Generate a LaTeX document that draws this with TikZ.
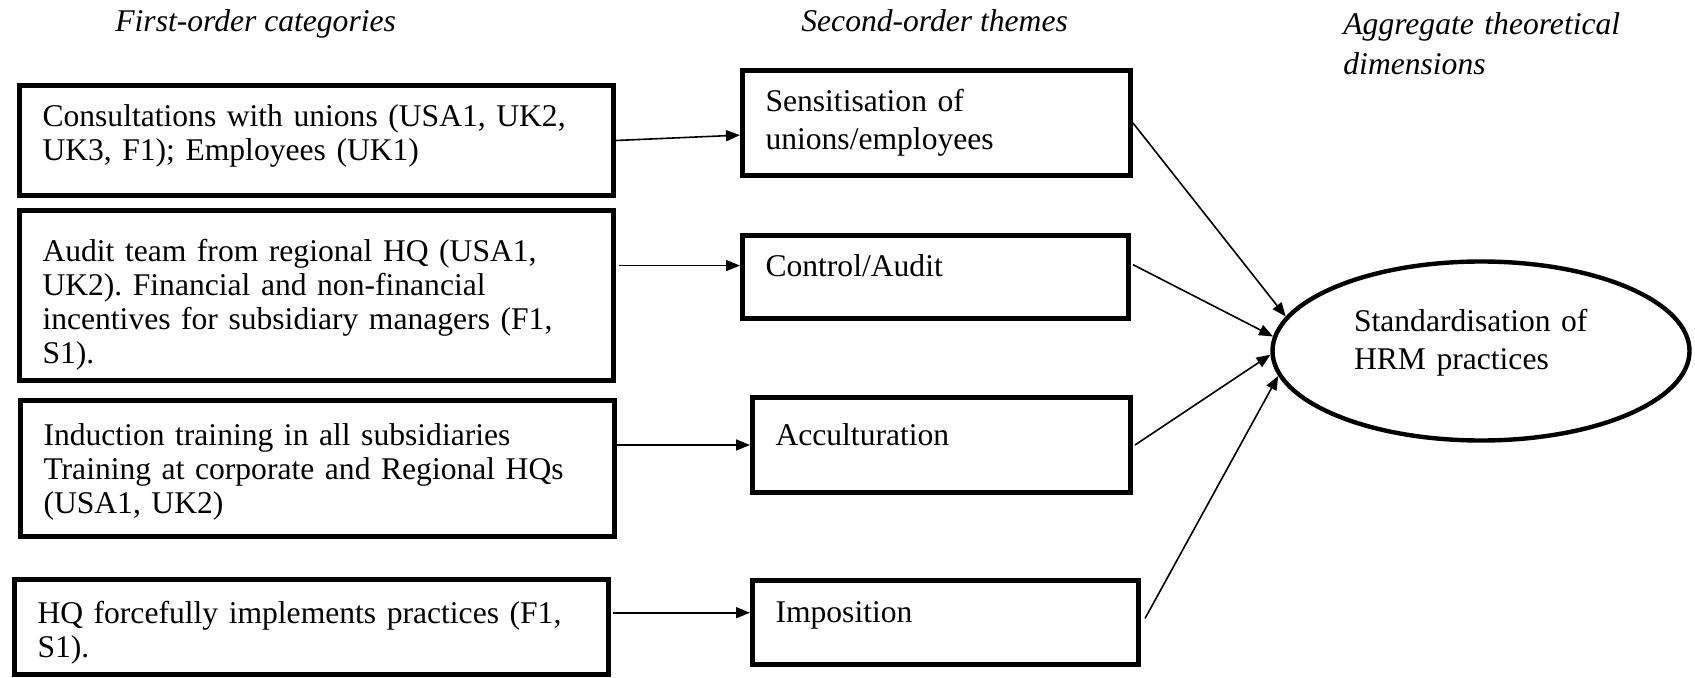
\documentclass[tikz,border=0pt]{standalone}
\usepackage{fontspec}
\setmainfont{Liberation Serif}
\usetikzlibrary{arrows.meta,shapes.geometric,calc}
\newcommand\boxfont{\fontsize{15.8pt}{17pt}\selectfont\frenchspacing}
\newcommand\themefont{\fontsize{15.8pt}{19pt}\selectfont}
\newcommand\headfont{\fontsize{15.8pt}{20pt}\selectfont\itshape}

\begin{document}
\begin{tikzpicture}[x=0.5pt,y=-0.5pt,
  catbox/.style={draw, line width=2.5pt, rectangle, inner ysep=0pt, inner xsep=11.5pt,
                 align=left, anchor=north west, font=\boxfont},
  themebox/.style={catbox, font=\themefont},
  dimnode/.style={draw, ellipse, line width=2.2pt, inner sep=0pt, align=left, font=\themefont},
  head/.style={font=\headfont, anchor=base west, inner sep=0pt, align=left},
  link/.style={line width=0.8pt, -{Triangle[length=7pt,width=5.5pt]}}
]
\useasboundingbox (0,0) rectangle (1695,678);

% column headings
\node[head] (h1) at (115,32) {First-order categories};
\node[head] (h2) at (801,32) {Second-order themes};
\node[head, text width=150pt] (h3) at (1343,35) {Aggregate theoretical\\dimensions};

% first-order categories
\node[catbox, text width=274pt, text height=20.75pt, text depth=34.25pt] (c1) at (17,83)
  {Consultations with unions (USA1, UK2,\\UK3, F1); Employees (UK1)};
\node[catbox, text width=274pt, text height=25.5pt, text depth=59.5pt] (c2) at (17,208)
  {Audit team from regional HQ (USA1,\\UK2). Financial and non-financial\\incentives for subsidiary managers (F1,\\S1).};
\node[catbox, text width=274pt, text height=22.5pt, text depth=45.5pt] (c3) at (18,398)
  {Induction training in all subsidiaries\\Training at corporate and Regional HQs\\(USA1, UK2)};
\node[catbox, text width=274pt, text height=21.75pt, text depth=25.75pt] (c4) at (12,577)
  {HQ forcefully implements practices (F1,\\S1).};

% second-order themes
\node[themebox, text width=171pt, text height=20.75pt, text depth=31.75pt] (s1) at (740,68)
  {Sensitisation of\\unions/employees};
\node[themebox, text width=170pt, text height=20.75pt, text depth=20.75pt] (s2) at (740,233)
  {Control/Audit};
\node[themebox, text width=166pt, text height=23.75pt, text depth=23.75pt] (s3) at (750,395)
  {Acculturation};
\node[themebox, text width=170pt, text height=20.75pt, text depth=21.25pt] (s4) at (750,578)
  {Imposition};

% aggregate dimension
\node[dimnode, minimum width=208.5pt, minimum height=89.5pt, text width=127pt,
      text height=15pt, text depth=35pt] (e) at (1481,351)
  {Standardisation of\\HRM practices};

% categories to themes
\coordinate (t1) at ($(s1.north west)!0.61!(s1.south west)$);
\coordinate (t2) at ($(s2.north west)!0.37!(s2.south west)$);
\coordinate (t4) at ($(s4.north west)!0.39!(s4.south west)$);
\draw[link] (c1.east) -- (t1);
\draw[link] ($(c2.east |- t2)+(3,0)$) -- (t2);
\draw[link] (c3.east |- s3.west) -- (s3.west);
\draw[link] ($(c4.east |- t4)+(2,0)$) -- (t4);

% themes to the aggregate dimension
\coordinate (u2) at ($(s2.north east)!0.36!(s2.south east)$);
\draw[link] (s1.east) -- (e.170);
\draw[link] ($(u2)+(2,0)$) -- (e.176);
\draw[link] ($(s3.east)+(2,0)$) -- (e.181);
\draw[link] ($(s4.east)+(4,-4)$) -- (e.187);
\end{tikzpicture}
\end{document}
